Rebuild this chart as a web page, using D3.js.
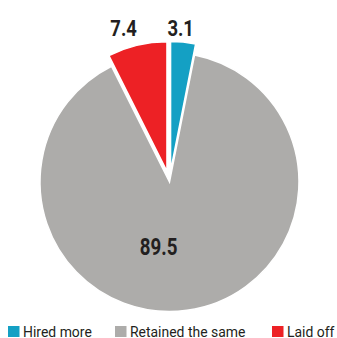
<!DOCTYPE html>
<html>
<head>
<meta charset="utf-8">
<script src="https://cdn.jsdelivr.net/npm/d3@7"></script>
<style>
  body { margin: 0; background: #fff; }
  text { font-family: Roboto, "Liberation Sans", sans-serif; }
</style>
</head>
<body>
<svg id="chart" width="337" height="338"></svg>
<script>
const categories = ["Hired more", "Retained the same", "Laid off"];
const values = [3.1, 89.5, 7.4];
const colors = ["#14a0c4", "#adacaa", "#ed2125"];
const exploded = [true, false, true];

const width = 337, height = 338;
const cx = 169.5, cy = 182, radius = 129.5;
const offset = 11;

const svg = d3.select("#chart");
const g = svg.append("g").attr("transform", "translate(" + cx + "," + cy + ")");

const pie = d3.pie().sort(null).value(d => d);
const arcs = pie(values);
const arc = d3.arc().innerRadius(0).outerRadius(radius);
const labelArc = d3.arc().innerRadius(145).outerRadius(145);
const innerLabelArc = d3.arc().innerRadius(64).outerRadius(64);

// shift for the pulled-out slices
function shift(d, i) {
  if (!exploded[i]) return [0, 0];
  const a = (d.startAngle + d.endAngle) / 2;
  return [offset * Math.sin(a), -offset * Math.cos(a)];
}

g.selectAll("path.slice")
  .data(arcs)
  .enter()
  .append("path")
    .attr("class", "slice")
    .attr("d", arc)
    .attr("fill", (d, i) => colors[i])
    .attr("stroke", "#fff")
    .attr("stroke-width", 1.5)
    .attr("stroke-linejoin", "miter")
    .attr("transform", (d, i) => "translate(" + shift(d, i) + ")");

// small nudges so labels sit where the original put them
const nudge = [[-4, 1], [-19.5, 0.5], [-10, -2]];

// the original uses a condensed face, so squeeze Roboto a bit
g.selectAll("text.val")
  .data(arcs)
  .enter()
  .append("text")
    .attr("class", "val")
    .attr("transform", (d, i) => {
      const s = shift(d, i);
      const c = exploded[i] ? labelArc.centroid(d) : innerLabelArc.centroid(d);
      const sx = exploded[i] ? 0.84 : 0.78;
      return "translate(" + (c[0] + s[0] + nudge[i][0]) + "," + (c[1] + s[1] + nudge[i][1]) + ") scale(" + sx + ",1)";
    })
    .attr("text-anchor", "middle")
    .attr("dy", "0.36em")
    .attr("font-size", (d, i) => exploded[i] ? 22 : 24)
    .attr("font-weight", "bold")
    .attr("fill", "#231f20")
    .text(d => d.data.toFixed(1));

// legend
const legendX = [8, 115, 272];
const legend = svg.append("g").attr("transform", "translate(0,326)");
const item = legend.selectAll("g")
  .data(categories)
  .enter()
  .append("g")
    .attr("transform", (d, i) => "translate(" + legendX[i] + ",0)");

item.append("rect")
  .attr("width", 11.5)
  .attr("height", 11)
  .attr("fill", (d, i) => colors[i]);

item.append("text")
  .attr("transform", "translate(15,11) scale(0.9,1)")
  .attr("font-size", 15.5)
  .attr("fill", "#231f20")
  .text(d => d);
</script>
</body>
</html>
